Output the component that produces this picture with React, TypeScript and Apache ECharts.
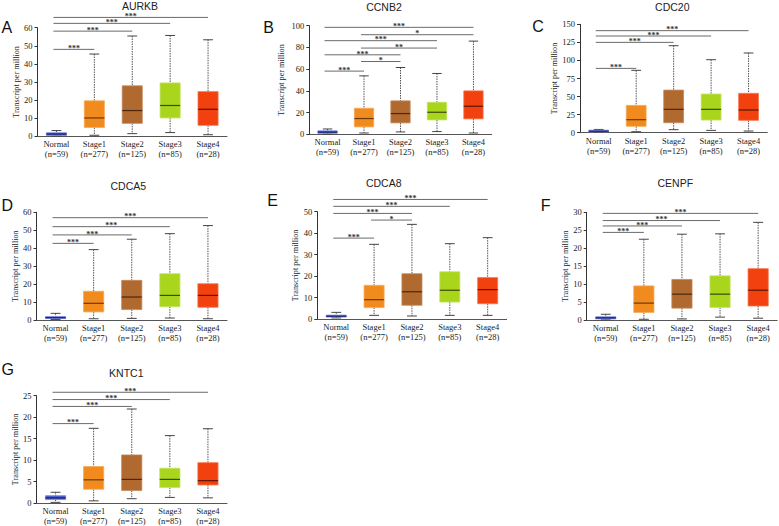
import React, { useEffect, useRef } from "react";
import * as echarts from "echarts";

// ---------- data ----------
const categories = ["Normal\n(n=59)", "Stage1\n(n=277)", "Stage2\n(n=125)", "Stage3\n(n=85)", "Stage4\n(n=28)"];
const geneNames = ["AURKB", "CCNB2", "CDC20", "CDCA5", "CDCA8", "CENPF", "KNTC1"];
const panelLetters = ["A", "B", "C", "D", "E", "F", "G"];
const yMaxes = [60, 100, 150, 60, 50, 30, 25];
const yIntervals = [10, 20, 25, 10, 10, 5, 5];

// each row: [min, q1, median, q3, max]
const aurkbBoxes = [
  [0.0, 0.3, 1.1, 1.8, 3.0],
  [0.4, 4.7, 10.0, 19.5, 45.4],
  [1.3, 7.0, 14.1, 27.8, 55.4],
  [1.9, 10.0, 16.9, 29.4, 55.7],
  [0.7, 5.9, 14.8, 24.6, 53.3],
];
const ccnb2Boxes = [
  [0.1, 0.9, 2.0, 3.2, 4.9],
  [1.2, 6.8, 14.5, 24.0, 53.8],
  [2.2, 10.5, 19.1, 30.8, 61.5],
  [2.5, 13.2, 20.3, 29.5, 56.0],
  [1.2, 14.2, 25.8, 40.0, 85.8],
];
const cdc20Boxes = [
  [0.8, 1.2, 2.0, 3.5, 4.5],
  [1.4, 8.8, 18.0, 37.8, 86.3],
  [4.2, 13.8, 32.3, 59.0, 120.4],
  [3.2, 17.5, 32.3, 53.5, 101.0],
  [2.3, 17.1, 31.4, 54.5, 110.3],
];
const cdca5Boxes = [
  [0.3, 0.8, 1.3, 1.9, 3.7],
  [0.7, 4.5, 9.3, 16.0, 39.2],
  [0.9, 5.8, 12.8, 22.1, 45.0],
  [1.1, 7.4, 13.7, 25.8, 48.1],
  [0.7, 7.1, 13.7, 20.2, 52.6],
];
const cdca8Boxes = [
  [0.5, 0.9, 1.3, 1.8, 3.1],
  [1.7, 5.3, 9.0, 15.7, 34.8],
  [1.4, 6.4, 12.7, 21.1, 44.1],
  [1.7, 7.9, 13.4, 22.0, 35.1],
  [1.7, 7.1, 13.7, 19.3, 37.9],
];
const cenpfBoxes = [
  [0.05, 0.3, 0.6, 0.9, 1.6],
  [0.2, 2.1, 4.7, 9.5, 22.5],
  [0.3, 3.3, 7.2, 11.3, 23.9],
  [0.8, 3.5, 7.2, 12.3, 24.0],
  [0.5, 3.9, 8.3, 14.3, 27.2],
];
const kntc1Boxes = [
  [0.15, 0.8, 1.2, 1.7, 2.5],
  [0.5, 3.2, 5.4, 8.5, 17.4],
  [1.0, 2.9, 5.5, 11.2, 21.9],
  [1.3, 3.6, 5.5, 8.1, 15.7],
  [1.2, 4.2, 5.2, 9.4, 17.3],
];

// each row: [fromCategory, toCategory, yValue, label]
const aurkbBrackets = [
  [0, 4, 65.7, "***"],
  [0, 3, 62.4, "***"],
  [0, 2, 58.1, "***"],
  [0, 1, 48.0, "***"],
];
const ccnb2Brackets = [
  [0, 4, 98.5, "***"],
  [1, 4, 91.7, "*"],
  [0, 3, 86.2, "***"],
  [1, 3, 79.4, "**"],
  [0, 2, 73.2, "***"],
  [1, 2, 67.0, "*"],
  [0, 1, 58.2, "***"],
];
const cdc20Brackets = [
  [0, 4, 141.2, "***"],
  [0, 3, 133.8, "***"],
  [0, 2, 125.0, "***"],
  [0, 1, 89.0, "***"],
];
const cdca5Brackets = [
  [0, 4, 57.0, "***"],
  [0, 3, 52.0, "***"],
  [0, 2, 47.4, "***"],
  [0, 1, 42.7, "***"],
];
const cdca8Brackets = [
  [0, 4, 55.7, "***"],
  [0, 3, 52.5, "***"],
  [0, 2, 49.2, "***"],
  [1, 2, 46.1, "*"],
  [0, 1, 37.7, "***"],
];
const cenpfBrackets = [
  [0, 4, 29.7, "***"],
  [0, 3, 27.7, "***"],
  [0, 2, 26.2, "***"],
  [0, 1, 24.4, "***"],
];
const kntc1Brackets = [
  [0, 4, 25.8, "***"],
  [0, 3, 24.1, "***"],
  [0, 2, 22.5, "***"],
  [0, 1, 18.5, "***"],
];

const allBoxes = [aurkbBoxes, ccnb2Boxes, cdc20Boxes, cdca5Boxes, cdca8Boxes, cenpfBoxes, kntc1Boxes];
const allBrackets = [aurkbBrackets, ccnb2Brackets, cdc20Brackets, cdca5Brackets, cdca8Brackets, cenpfBrackets, kntc1Brackets];

// ---------- styles / layout ----------
const boxFill = ["#4758c8", "#f18b1e", "#b0692f", "#a9d51c", "#f2400f"];
const boxEdge = ["#7a88dc", "#f6aa5a", "#c48a5c", "#c4e25e", "#f6764e"];
const medianColor = ["#1b2470", "#6a3a0e", "#4a2810", "#3c4a0c", "#5a1706"];

// [left, top, width, height] per panel
const gridLayout = [
  [37.5, 27.7, 189.5, 108.3],
  [309.3, 25.7, 182.4, 108.6],
  [580, 24.3, 187.3, 108.4],
  [36.5, 212.3, 190.5, 107.7],
  [317.3, 211.7, 189.3, 107.3],
  [586.7, 212.3, 190.5, 107.7],
  [36.5, 395.7, 190.5, 108.3],
];
const nameGaps = [17.5, 24, 20.5, 17, 17, 17.5, 17];
// title centre [x, y]
const titlePos = [
  [140, 5.8], [384, 6.7], [672.3, 7.3], [128.3, 185.8], [383.7, 183.2], [675.3, 183], [126.3, 372.5],
];
// panel letter [left x, centre y]
const letterPos = [
  [1.5, 27], [263.3, 27.5], [532.3, 26], [1.5, 205.8], [267.3, 200], [540.7, 205], [1.5, 369],
];

const SERIF = "'Liberation Serif', 'Times New Roman', serif";
const SANS = "'Liberation Sans', Arial, sans-serif";

function buildOption() {
  const grid: any[] = [];
  const xAxis: any[] = [];
  const yAxis: any[] = [];
  const series: any[] = [];
  const graphic: any[] = [];

  for (let p = 0; p < geneNames.length; p++) {
    const [l, t, w, h] = gridLayout[p];
    grid.push({ left: l, top: t, width: w, height: h, containLabel: false });
    xAxis.push({
      type: "category",
      gridIndex: p,
      data: categories,
      axisLine: { show: true, lineStyle: { color: "#555", width: 1 } },
      axisTick: { show: false },
      axisLabel: {
        interval: 0,
        fontFamily: SERIF,
        fontSize: 8.5,
        lineHeight: 10,
        color: "#1a1a1a",
        margin: 3,
      },
      splitLine: { show: false },
    });
    yAxis.push({
      type: "value",
      gridIndex: p,
      min: 0,
      max: yMaxes[p],
      interval: yIntervals[p],
      axisLine: { show: true, lineStyle: { color: "#333", width: 1 } },
      axisTick: { show: true, inside: false, length: 3, lineStyle: { color: "#333" } },
      axisLabel: { fontFamily: SERIF, fontSize: 8.5, color: "#1a1a1a", margin: 5 },
      splitLine: { show: false },
      name: "Transcript per million",
      nameLocation: "middle",
      nameRotate: 90,
      nameGap: nameGaps[p],
      nameTextStyle: { fontFamily: SERIF, fontSize: 8.2, color: "#1a1a1a" },
    });

    const boxes = allBoxes[p];
    series.push({
      type: "custom",
      xAxisIndex: p,
      yAxisIndex: p,
      encode: { x: 0, y: [1, 2, 3, 4, 5] },
      data: boxes.map((b, i) => [i, b[0], b[1], b[2], b[3], b[4]]),
      renderItem: (params: any, api: any) => {
        const idx = api.value(0);
        const band = api.size([1, 0])[0];
        const bw = band * 0.53;
        const cw = band * 0.26;
        const x = api.coord([idx, 0])[0];
        const yMin = api.coord([idx, api.value(1)])[1];
        const yQ1 = api.coord([idx, api.value(2)])[1];
        const yMed = api.coord([idx, api.value(3)])[1];
        const yQ3 = api.coord([idx, api.value(4)])[1];
        const yMax = api.coord([idx, api.value(5)])[1];
        const whisk = { stroke: "#555", lineWidth: 1, lineDash: [1.5, 1] };
        const cap = { stroke: "#444", lineWidth: 1 };
        return {
          type: "group",
          children: [
            { type: "line", shape: { x1: x, y1: yMax, x2: x, y2: yQ3 }, style: whisk },
            { type: "line", shape: { x1: x, y1: yQ1, x2: x, y2: yMin }, style: whisk },
            { type: "line", shape: { x1: x - cw / 2, y1: yMax, x2: x + cw / 2, y2: yMax }, style: cap },
            { type: "line", shape: { x1: x - cw / 2, y1: yMin, x2: x + cw / 2, y2: yMin }, style: cap },
            {
              type: "rect",
              shape: { x: x - bw / 2, y: yQ3, width: bw, height: Math.max(yQ1 - yQ3, 1) },
              style: { fill: boxFill[idx], stroke: boxEdge[idx], lineWidth: 0.8 },
            },
            {
              type: "line",
              shape: { x1: x - bw / 2, y1: yMed, x2: x + bw / 2, y2: yMed },
              style: { stroke: medianColor[idx], lineWidth: 1.2 },
            },
          ],
        };
      },
      clip: false,
      z: 2,
    });

    const brackets = allBrackets[p];
    series.push({
      type: "custom",
      xAxisIndex: p,
      yAxisIndex: p,
      encode: { x: [0, 1], y: 2 },
      data: brackets.map((b) => [b[0], b[1], b[2]]),
      renderItem: (params: any, api: any) => {
        const from = api.value(0);
        const to = api.value(1);
        const v = api.value(2);
        const p1 = api.coord([from, v]);
        const p2 = api.coord([to, v]);
        const label = (brackets[params.dataIndex] as any[])[3];
        return {
          type: "group",
          children: [
            {
              type: "line",
              shape: { x1: p1[0] - 3, y1: p1[1], x2: p2[0], y2: p2[1] },
              style: { stroke: "#6a6a6a", lineWidth: 1 },
            },
            {
              type: "text",
              x: (p1[0] - 3 + p2[0]) / 2,
              y: p1[1] - 0.8,
              style: {
                text: label,
                fontFamily: SERIF,
                fontSize: 8,
                fontWeight: "bold",
                fill: "#333",
                align: "center",
                verticalAlign: "middle",
              },
            },
          ],
        };
      },
      clip: false,
      silent: true,
      z: 3,
    });

    graphic.push({
      type: "text",
      x: titlePos[p][0],
      y: titlePos[p][1],
      style: {
        text: geneNames[p],
        fontFamily: SANS,
        fontSize: 10.5,
        fill: "#222",
        align: "center",
        verticalAlign: "middle",
      },
    });
    graphic.push({
      type: "text",
      x: letterPos[p][0],
      y: letterPos[p][1],
      style: {
        text: panelLetters[p],
        fontFamily: SANS,
        fontSize: 16,
        fill: "#111",
        align: "left",
        verticalAlign: "middle",
      },
    });
  }

  return {
    animation: false,
    backgroundColor: "#ffffff",
    grid,
    xAxis,
    yAxis,
    series,
    graphic,
  };
}

export default function App() {
  const ref = useRef<HTMLDivElement>(null);
  useEffect(() => {
    if (!ref.current) return;
    const chart = echarts.init(ref.current, undefined, { renderer: "svg" });
    chart.setOption(buildOption() as any);
    return () => chart.dispose();
  }, []);
  return (
    <div
      ref={ref}
      style={{ position: "fixed", left: 0, top: 0, width: 779, height: 526, background: "#fff" }}
    />
  );
}
